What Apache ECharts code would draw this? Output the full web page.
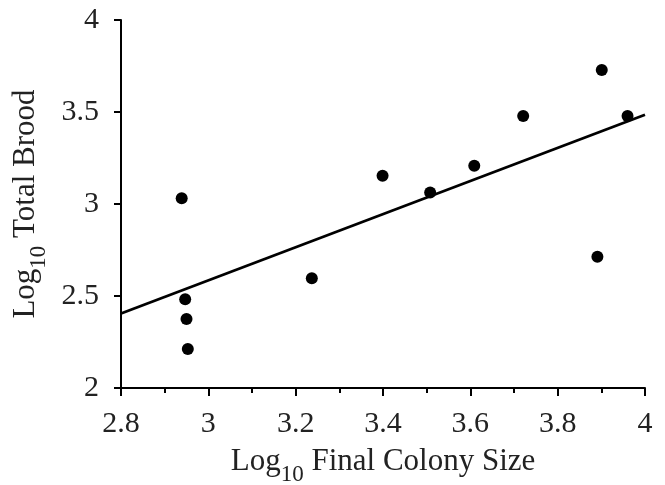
<!DOCTYPE html>
<html>
<head>
<meta charset="utf-8">
<script src="https://cdn.jsdelivr.net/npm/echarts@6/dist/echarts.min.js"></script>
<style>
  html, body { margin: 0; padding: 0; background: #fff; }
  #chart { width: 665px; height: 485px; }
</style>
</head>
<body>
<div id="chart"></div>
<script>
// colony data (log10 values)
const colonySize = [2.939, 2.947, 2.950, 2.953, 3.237, 3.399, 3.508, 3.609, 3.721, 3.901, 3.960, 3.891];
const totalBrood = [3.031, 2.482, 2.375, 2.212, 2.596, 3.154, 3.063, 3.208, 3.478, 3.728, 3.478, 2.713];
// regression line end points
const fitX = [2.8, 4.0];
const fitY = [2.405, 3.485];

const points = colonySize.map(function (x, i) { return [x, totalBrood[i]]; });
const fit = fitX.map(function (x, i) { return [x, fitY[i]]; });

const font = '"Liberation Serif", "Times New Roman", serif';
const chart = echarts.init(document.getElementById('chart'));

// rich styles for "Log" + subscript "10"
const titleRich = {
    a: { fontFamily: font, fontSize: 31, color: '#222', verticalAlign: 'top', lineHeight: 40 },
    b: { fontFamily: font, fontSize: 23, color: '#222', verticalAlign: 'bottom', lineHeight: 40 }
};

chart.setOption({
    animation: false,
    textStyle: { fontFamily: font, color: '#000' },
    grid: { left: 121, right: 20, top: 20, bottom: 97, outerBoundsMode: 'none', containLabel: false },
    xAxis: {
        type: 'value',
        min: 2.8, max: 4, interval: 0.2,
        name: '{a|Log}{b|10}{a| Final Colony Size}',
        nameLocation: 'middle',
        nameGap: 58,
        nameTextStyle: { rich: titleRich },
        axisLine: { lineStyle: { color: '#000', width: 2 } },
        axisTick: { length: 8, lineStyle: { color: '#000', width: 2 } },
        minorTick: { show: true, splitNumber: 2, length: 5, lineStyle: { color: '#000', width: 2 } },
        axisLabel: {
            fontFamily: font, fontSize: 30, color: '#222', margin: 21,
            formatter: function (v) { return String(+v.toFixed(1)); }
        },
        splitLine: { show: false }
    },
    yAxis: {
        type: 'value',
        min: 2, max: 4, interval: 0.5,
        name: '{a|Log}{b|10}{a| Total Brood}',
        nameLocation: 'middle',
        nameRotate: 90,
        nameGap: 71,
        nameTextStyle: { rich: titleRich },
        axisLine: { show: true, lineStyle: { color: '#000', width: 2 } },
        axisTick: { show: true, length: 7, lineStyle: { color: '#000', width: 2 } },
        axisLabel: {
            fontFamily: font, fontSize: 30, color: '#222', margin: 22,
            formatter: function (v) { return String(+v.toFixed(1)); }
        },
        splitLine: { show: false }
    },
    series: [
        {
            type: 'line',
            data: fit,
            showSymbol: false,
            lineStyle: { color: '#000', width: 2.8 },
            silent: true,
            z: 2
        },
        {
            type: 'scatter',
            data: points,
            symbol: 'circle',
            symbolSize: 12,
            itemStyle: { color: '#000', opacity: 1 },
            z: 3
        }
    ]
});
</script>
</body>
</html>
